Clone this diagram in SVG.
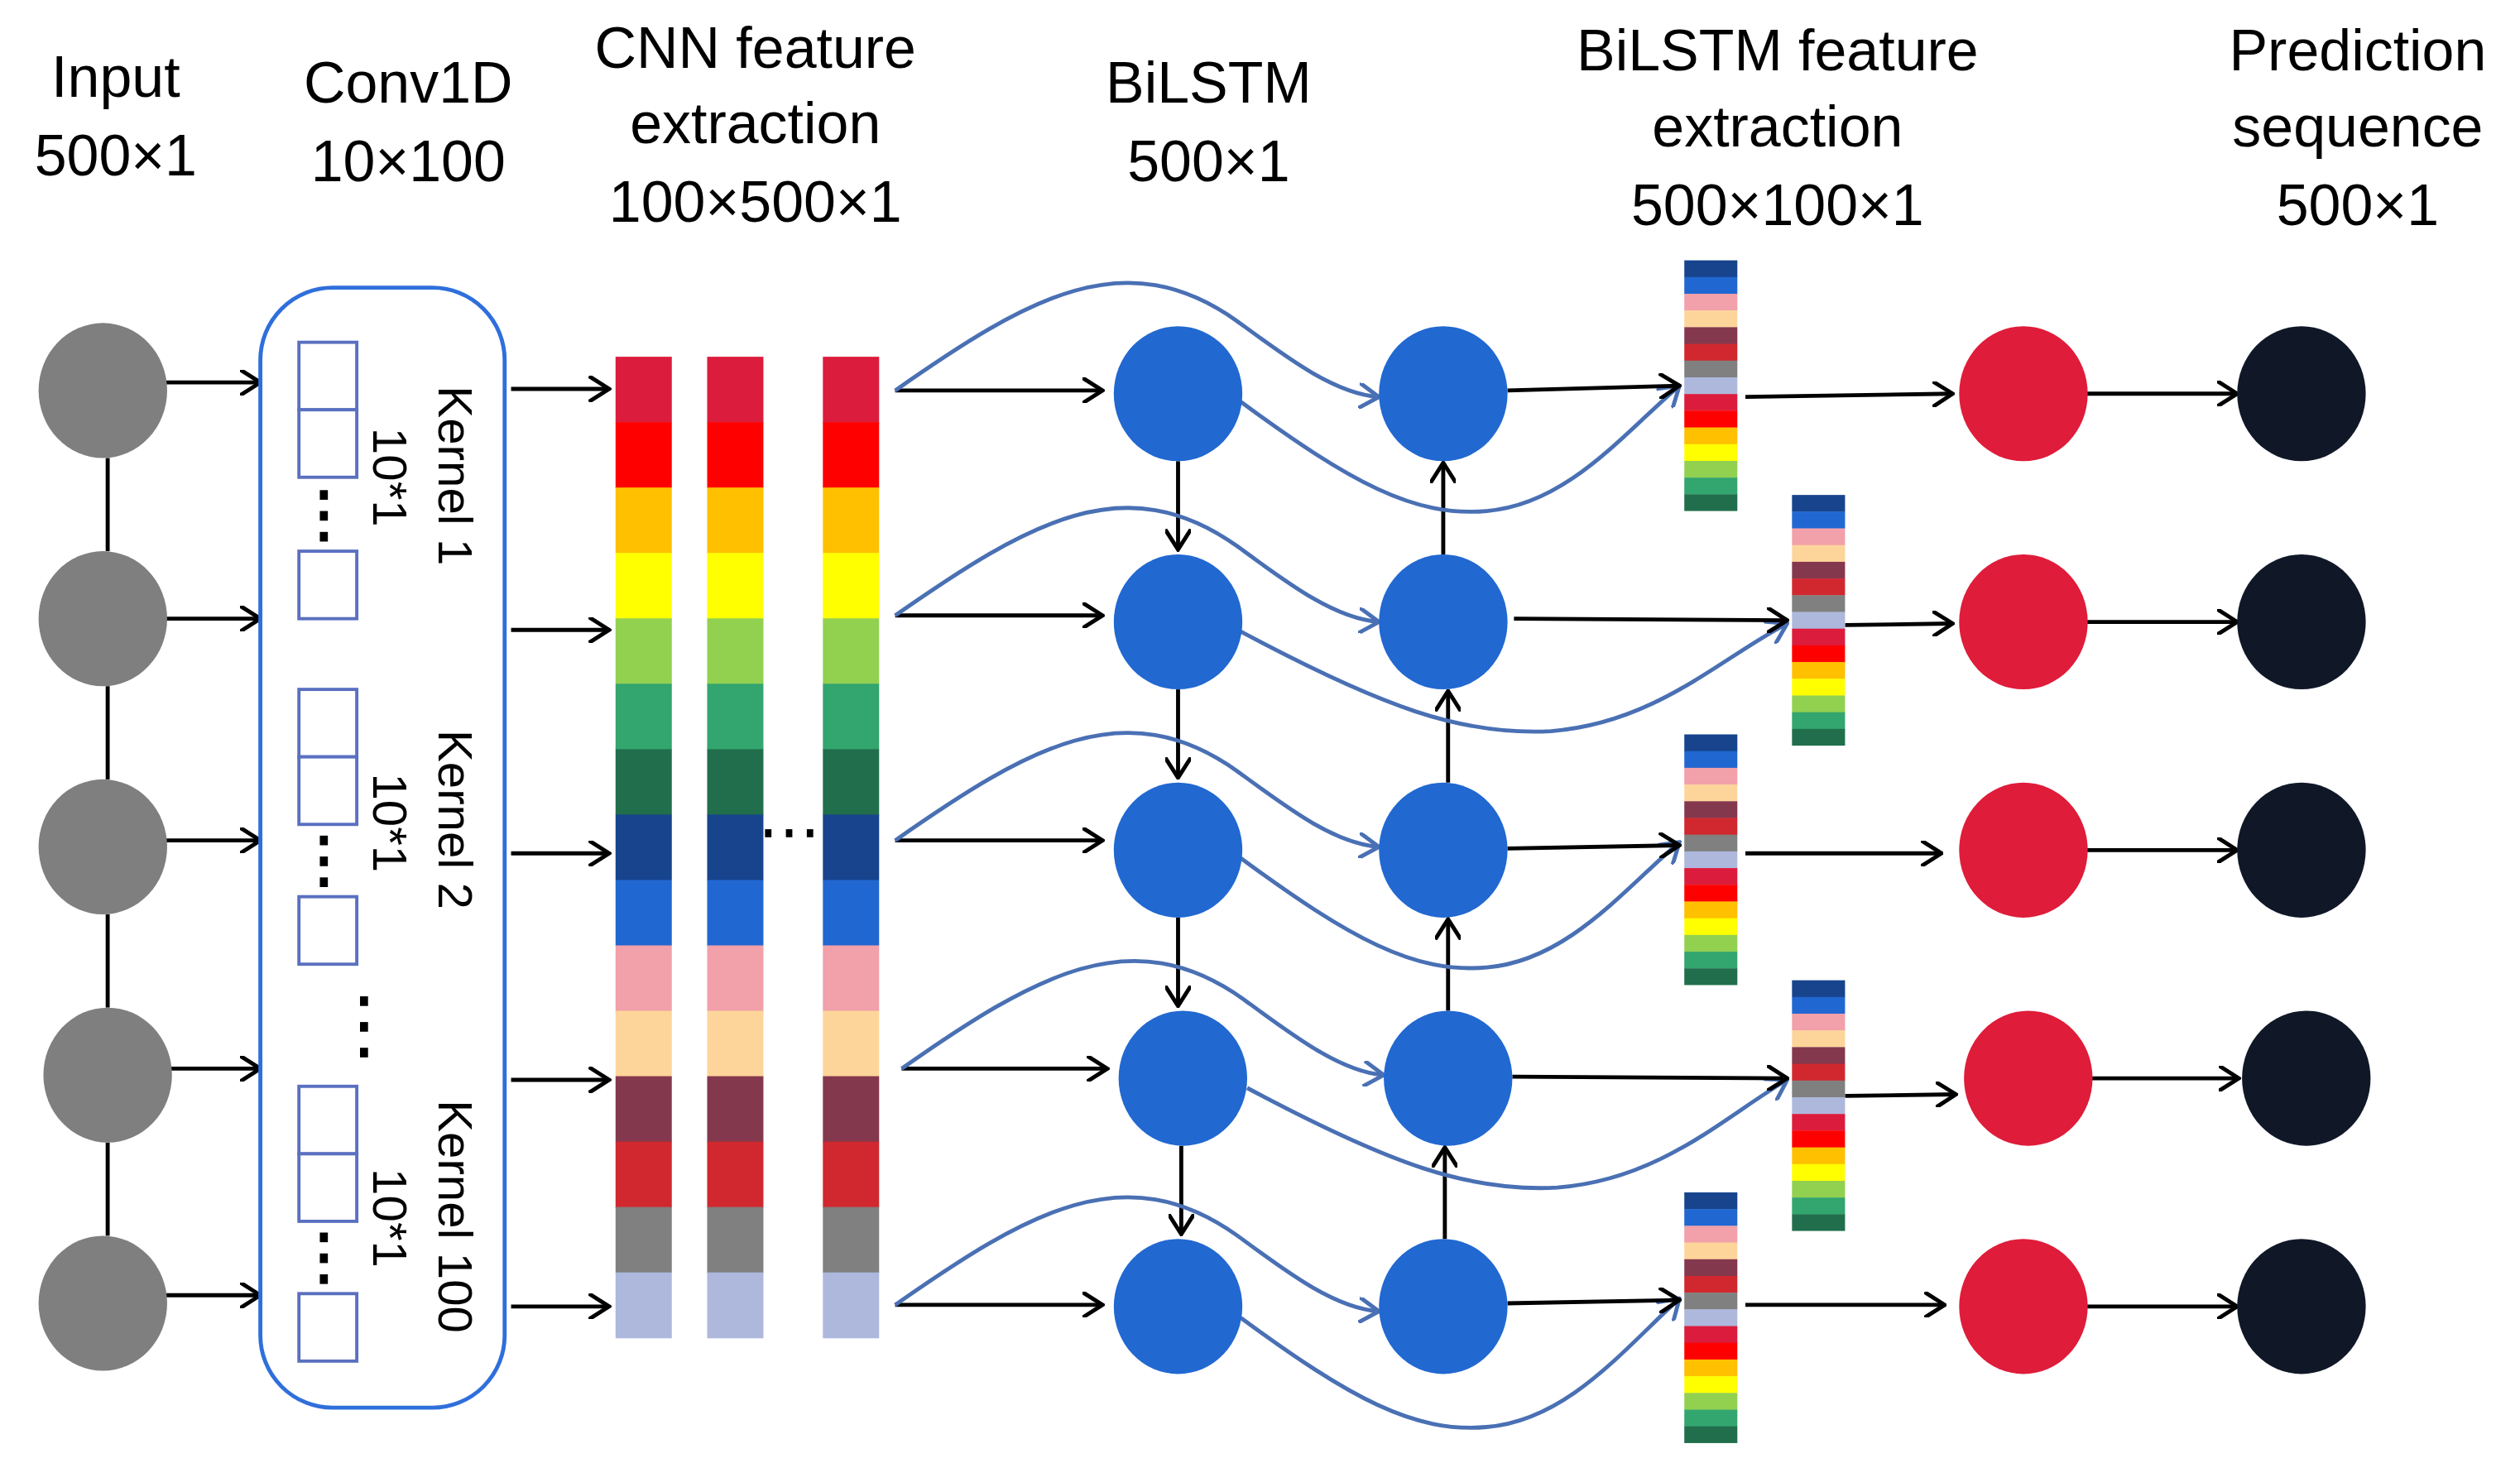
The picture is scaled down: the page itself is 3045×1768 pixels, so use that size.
<svg xmlns="http://www.w3.org/2000/svg" xmlns:xlink="http://www.w3.org/1999/xlink" width="3045" height="1768" viewBox="0 0 3045 1768">
<style>
.t{font-family:"Liberation Sans",Arial,sans-serif;font-size:36px;fill:#000;text-anchor:middle}
.r{font-family:"Liberation Sans",Arial,sans-serif;font-size:30px;fill:#000;text-anchor:middle}
.k{stroke:#000;stroke-width:2.5;fill:none}
.b{stroke:#4a70b4;stroke-width:2.5;fill:none}
.box{fill:#fff;stroke:#5a70c0;stroke-width:2}
.g{fill:#7f7f7f}.bl{fill:#2168d1}.rd{fill:#df1c3a}.dk{fill:#101828}
</style>
<defs>
<marker id="ak" viewBox="0 0 12 14" refX="11" refY="7" markerWidth="14" markerHeight="16" markerUnits="userSpaceOnUse" orient="auto"><path d="M0,0 L11,7 L0,14" fill="none" stroke="#000" stroke-width="2.2"/></marker>
<marker id="ab" viewBox="0 0 12 14" refX="11" refY="7" markerWidth="14" markerHeight="16" markerUnits="userSpaceOnUse" orient="auto"><path d="M0,0 L11,7 L0,14" fill="none" stroke="#4a70b4" stroke-width="2.2"/></marker>
<g id="col">
<rect y="0" width="35" height="41" fill="#dc1c3c"/><rect y="40.7" width="35" height="41" fill="#ff0000"/><rect y="81.4" width="35" height="41" fill="#ffc000"/><rect y="122.1" width="35" height="41" fill="#ffff00"/><rect y="162.8" width="35" height="41" fill="#92d050"/><rect y="203.5" width="35" height="41" fill="#33a56e"/><rect y="244.2" width="35" height="41" fill="#216e4c"/><rect y="284.9" width="35" height="41" fill="#17448d"/><rect y="325.6" width="35" height="41" fill="#2167d1"/><rect y="366.3" width="35" height="41" fill="#f2a0aa"/><rect y="407" width="35" height="41" fill="#fdd59a"/><rect y="447.7" width="35" height="41" fill="#84384e"/><rect y="488.4" width="35" height="41" fill="#d0282e"/><rect y="529.1" width="35" height="41" fill="#808080"/><rect y="569.8" width="35" height="41" fill="#adb8dc"/>
</g>
<g id="fc">
<rect y="0" width="33" height="10.6" fill="#17448d"/><rect y="10.4" width="33" height="10.6" fill="#2167d1"/><rect y="20.8" width="33" height="10.6" fill="#f2a0aa"/><rect y="31.2" width="33" height="10.6" fill="#fdd59a"/><rect y="41.6" width="33" height="10.6" fill="#84384e"/><rect y="52" width="33" height="10.6" fill="#d0282e"/><rect y="62.4" width="33" height="10.6" fill="#808080"/><rect y="72.8" width="33" height="10.6" fill="#adb8dc"/><rect y="83.2" width="33" height="10.6" fill="#dc1c3c"/><rect y="93.6" width="33" height="10.6" fill="#ff0000"/><rect y="104" width="33" height="10.6" fill="#ffc000"/><rect y="114.4" width="33" height="10.6" fill="#ffff00"/><rect y="124.8" width="33" height="10.6" fill="#92d050"/><rect y="135.2" width="33" height="10.6" fill="#33a56e"/><rect y="145.6" width="33" height="10.4" fill="#216e4c"/>
</g>
</defs>
<rect width="3045" height="1768" fill="#fff"/>
<g transform="scale(1.942)">
<g id="labels">
<text class="t" x="72" y="60">Input</text><text class="t" x="72" y="109">500×1</text>
<text class="t" x="254" y="64">Conv1D</text><text class="t" x="254" y="113">10×100</text>
<text class="t" x="470" y="42">CNN feature</text><text class="t" x="470" y="89">extraction</text><text class="t" x="470" y="138">100×500×1</text>
<text class="t" x="752" y="64">BiLSTM</text><text class="t" x="752" y="113">500×1</text>
<text class="t" x="1106" y="44">BiLSTM feature</text><text class="t" x="1106" y="91">extraction</text><text class="t" x="1106" y="140">500×100×1</text>
<text class="t" x="1467" y="44">Prediction</text><text class="t" x="1467" y="91">sequence</text><text class="t" x="1467" y="140">500×1</text>
</g>
<g id="connectors">
<line class="k" x1="67" y1="285" x2="67" y2="343"/><line class="k" x1="67" y1="427" x2="67" y2="485"/><line class="k" x1="67" y1="569" x2="67" y2="627"/><line class="k" x1="67" y1="711" x2="67" y2="769"/>
<line class="k" x1="103" y1="238" x2="162" y2="238" marker-end="url(#ak)"/><line class="k" x1="103" y1="385" x2="162" y2="385" marker-end="url(#ak)"/><line class="k" x1="103" y1="523" x2="162" y2="523" marker-end="url(#ak)"/><line class="k" x1="106" y1="665" x2="162" y2="665" marker-end="url(#ak)"/><line class="k" x1="103" y1="806" x2="162" y2="806" marker-end="url(#ak)"/>
<line class="k" x1="318" y1="242" x2="379" y2="242" marker-end="url(#ak)"/><line class="k" x1="318" y1="392" x2="379" y2="392" marker-end="url(#ak)"/><line class="k" x1="318" y1="531" x2="379" y2="531" marker-end="url(#ak)"/><line class="k" x1="318" y1="672" x2="379" y2="672" marker-end="url(#ak)"/><line class="k" x1="318" y1="813" x2="379" y2="813" marker-end="url(#ak)"/>
<line class="k" x1="557" y1="243" x2="686" y2="243" marker-end="url(#ak)"/><line class="k" x1="557" y1="383" x2="686" y2="383" marker-end="url(#ak)"/><line class="k" x1="557" y1="523" x2="686" y2="523" marker-end="url(#ak)"/><line class="k" x1="561" y1="665" x2="689" y2="665" marker-end="url(#ak)"/><line class="k" x1="557" y1="812" x2="686" y2="812" marker-end="url(#ak)"/>
<line class="k" x1="733" y1="287" x2="733" y2="342" marker-end="url(#ak)"/><line class="k" x1="733" y1="429" x2="733" y2="484" marker-end="url(#ak)"/><line class="k" x1="733" y1="571" x2="733" y2="626" marker-end="url(#ak)"/><line class="k" x1="735" y1="713" x2="735" y2="768" marker-end="url(#ak)"/>
<line class="k" x1="898" y1="345" x2="898" y2="288" marker-end="url(#ak)"/><line class="k" x1="901" y1="487" x2="901" y2="430" marker-end="url(#ak)"/><line class="k" x1="901" y1="629" x2="901" y2="572" marker-end="url(#ak)"/><line class="k" x1="899" y1="771" x2="899" y2="714" marker-end="url(#ak)"/>
<g class="b">
<path d="M557,243 C640,185 700,150 770,200 C800,222 830,245 858,247" marker-end="url(#ab)"/>
<path d="M557,383 C640,325 700,290 770,340 C800,362 830,385 858,387" marker-end="url(#ab)"/>
<path d="M557,523 C640,465 700,430 770,480 C800,502 830,525 858,527" marker-end="url(#ab)"/>
<path d="M561,665 C644,607 704,572 774,622 C804,644 834,667 861,669" marker-end="url(#ab)"/>
<path d="M557,812 C640,754 700,719 770,769 C800,791 830,814 858,816" marker-end="url(#ab)"/>
<path d="M772,250 C840,300 880,322 925,318 C975,314 1010,270 1045,240" marker-end="url(#ab)"/>
<path d="M772,393 C860,440 910,458 965,455 C1030,450 1070,410 1112,388" marker-end="url(#ab)"/>
<path d="M772,534 C840,584 880,606 925,602 C975,598 1010,554 1045,524" marker-end="url(#ab)"/>
<path d="M776,677 C864,724 914,742 969,739 C1034,734 1074,694 1112,672" marker-end="url(#ab)"/>
<path d="M772,820 C840,870 880,892 925,888 C975,884 1010,840 1045,808" marker-end="url(#ab)"/>
</g>
<line class="k" x1="938" y1="243" x2="1045" y2="240" marker-end="url(#ak)"/><line class="k" x1="942" y1="385" x2="1112" y2="386" marker-end="url(#ak)"/><line class="k" x1="938" y1="528" x2="1045" y2="526" marker-end="url(#ak)"/><line class="k" x1="941" y1="670" x2="1112" y2="671" marker-end="url(#ak)"/><line class="k" x1="938" y1="811" x2="1045" y2="809" marker-end="url(#ak)"/>
<line class="k" x1="1086" y1="247" x2="1215" y2="245" marker-end="url(#ak)"/><line class="k" x1="1148" y1="389" x2="1215" y2="388" marker-end="url(#ak)"/><line class="k" x1="1086" y1="531" x2="1208" y2="531" marker-end="url(#ak)"/><line class="k" x1="1148" y1="682" x2="1217" y2="681" marker-end="url(#ak)"/><line class="k" x1="1086" y1="812" x2="1210" y2="812" marker-end="url(#ak)"/>
<line class="k" x1="1298" y1="245" x2="1392" y2="245" marker-end="url(#ak)"/><line class="k" x1="1298" y1="387" x2="1392" y2="387" marker-end="url(#ak)"/><line class="k" x1="1298" y1="529" x2="1392" y2="529" marker-end="url(#ak)"/><line class="k" x1="1301" y1="671" x2="1393" y2="671" marker-end="url(#ak)"/><line class="k" x1="1298" y1="813" x2="1392" y2="813" marker-end="url(#ak)"/>
</g>
<g id="input"><ellipse class="g" cx="64" cy="243" rx="40" ry="42"/><ellipse class="g" cx="64" cy="385" rx="40" ry="42"/><ellipse class="g" cx="64" cy="527" rx="40" ry="42"/><ellipse class="g" cx="67" cy="669" rx="40" ry="42"/><ellipse class="g" cx="64" cy="811" rx="40" ry="42"/></g>
<g id="conv1d">
<rect x="162" y="179" width="152" height="697" rx="45" fill="none" stroke="#2f6fdc" stroke-width="2.5"/>
<rect class="box" x="186" y="213" width="36" height="42"/><rect class="box" x="186" y="255" width="36" height="42"/><rect class="box" x="186" y="343" width="36" height="42"/>
<rect class="box" x="186" y="429" width="36" height="42"/><rect class="box" x="186" y="471" width="36" height="42"/><rect class="box" x="186" y="558" width="36" height="42"/>
<rect class="box" x="186" y="676" width="36" height="42"/><rect class="box" x="186" y="718" width="36" height="42"/><rect class="box" x="186" y="805" width="36" height="42"/>
<g fill="#000"><rect x="199" y="305" width="5" height="6"/><rect x="199" y="318" width="5" height="6"/><rect x="199" y="331" width="5" height="6"/>
<rect x="199" y="520" width="5" height="6"/><rect x="199" y="533" width="5" height="6"/><rect x="199" y="546" width="5" height="6"/>
<rect x="199" y="767" width="5" height="6"/><rect x="199" y="780" width="5" height="6"/><rect x="199" y="793" width="5" height="6"/>
<rect x="224" y="620" width="5" height="6"/><rect x="224" y="636" width="5" height="6"/><rect x="224" y="652" width="5" height="6"/></g>
<text class="r" transform="translate(273,296) rotate(90)">Kernel 1</text>
<text class="r" transform="translate(232,297) rotate(90)">10*1</text>
<text class="r" transform="translate(273,510) rotate(90)">Kernel 2</text>
<text class="r" transform="translate(232,512) rotate(90)">10*1</text>
<text class="r" transform="translate(273,757) rotate(90)">Kernel 100</text>
<text class="r" transform="translate(232,758) rotate(90)">10*1</text>
</g>
<g id="cnn">
<use xlink:href="#col" x="383" y="222"/><use xlink:href="#col" x="440" y="222"/><use xlink:href="#col" x="512" y="222"/>
<g fill="#000"><rect x="476" y="516" width="4" height="5"/><rect x="489" y="516" width="4" height="5"/><rect x="502" y="516" width="4" height="5"/></g>
</g>
<g id="bilstm">
<ellipse class="bl" cx="733" cy="245" rx="40" ry="42"/><ellipse class="bl" cx="733" cy="387" rx="40" ry="42"/><ellipse class="bl" cx="733" cy="529" rx="40" ry="42"/><ellipse class="bl" cx="736" cy="671" rx="40" ry="42"/><ellipse class="bl" cx="733" cy="813" rx="40" ry="42"/>
<ellipse class="bl" cx="898" cy="245" rx="40" ry="42"/><ellipse class="bl" cx="898" cy="387" rx="40" ry="42"/><ellipse class="bl" cx="898" cy="529" rx="40" ry="42"/><ellipse class="bl" cx="901" cy="671" rx="40" ry="42"/><ellipse class="bl" cx="898" cy="813" rx="40" ry="42"/>
</g>
<g id="features">
<use xlink:href="#fc" x="1048" y="162"/><use xlink:href="#fc" x="1115" y="308"/><use xlink:href="#fc" x="1048" y="457"/><use xlink:href="#fc" x="1115" y="610"/><use xlink:href="#fc" x="1048" y="742"/>
</g>
<g id="output">
<ellipse class="rd" cx="1259" cy="245" rx="40" ry="42"/><ellipse class="rd" cx="1259" cy="387" rx="40" ry="42"/><ellipse class="rd" cx="1259" cy="529" rx="40" ry="42"/><ellipse class="rd" cx="1262" cy="671" rx="40" ry="42"/><ellipse class="rd" cx="1259" cy="813" rx="40" ry="42"/>
</g>
<g id="prediction">
<ellipse class="dk" cx="1432" cy="245" rx="40" ry="42"/><ellipse class="dk" cx="1432" cy="387" rx="40" ry="42"/><ellipse class="dk" cx="1432" cy="529" rx="40" ry="42"/><ellipse class="dk" cx="1435" cy="671" rx="40" ry="42"/><ellipse class="dk" cx="1432" cy="813" rx="40" ry="42"/>
</g>
</g>
</svg>
